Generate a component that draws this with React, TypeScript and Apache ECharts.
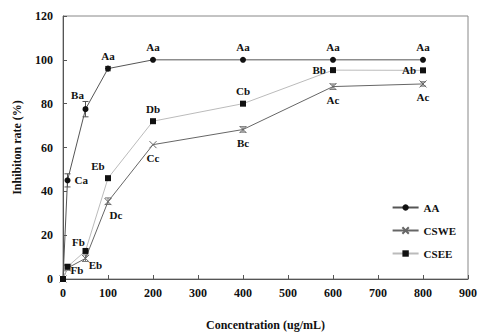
import React, { useEffect, useRef } from "react";
import * as echarts from "echarts";

const concentrations = [0, 10, 50, 100, 200, 400, 600, 800];
const aaValues = [0, 45, 77.5, 96, 100, 100, 100, 100];
const cswеValues = [0, 5, 9.4, 35.3, 61.3, 68.2, 87.8, 89];
const cseeValues = [0, 5.6, 12.8, 46, 72, 80, 95.3, 95.2];

const aaLabels = ["", "Ca", "Ba", "Aa", "Aa", "Aa", "Aa", "Aa"];
const cswеLabels = ["", "Fb", "Eb", "Dc", "Cc", "Bc", "Ac", "Ac"];
const cseeLabels = ["", "", "Fb", "Eb", "Db", "Cb", "Bb", "Ab"];

const aaLabelPos = ["top", "right", "top", "top", "top", "top", "top", "top"];
const cswеLabelPos = ["bottom", "right", "bottom", "bottom", "bottom", "bottom", "bottom", "bottom"];
const cseeLabelPos = ["top", "top", "top", "top", "top", "top", "left", "left"];

// error bars: [x, low, high]
const aaErrors = [
  [10, 42, 48],
  [50, 74, 81],
  [100, 95, 97],
];
const cswеErrors = [
  [10, 4, 6.5],
  [50, 8, 11],
  [100, 34, 37],
  [400, 67, 69.5],
  [600, 86.5, 89],
  [800, 88, 90],
];

const xTicks = { min: 0, max: 900, interval: 100 };
const yTicks = { min: 0, max: 120, interval: 20 };

const FONT = "'Liberation Serif', 'Times New Roman', serif";

const X_PATH = "path://M0,0 L10,10 M10,0 L0,10";

function buildData(values: number[], labels: string[], pos: string[], offsets?: Record<number, number[]>) {
  return concentrations.map((x, i) => ({
    value: [x, values[i]],
    label: {
      show: labels[i] !== "",
      formatter: labels[i],
      position: pos[i],
      distance: 4,
      offset: offsets && offsets[i] ? offsets[i] : [0, 0],
    },
  }));
}

export default function App() {
  const ref = useRef<HTMLDivElement>(null);
  useEffect(() => {
    if (!ref.current) return;
    const chart = echarts.init(ref.current, undefined, { renderer: "svg" });
    const labelStyle = {
      fontFamily: FONT,
      fontWeight: "bold" as const,
      fontSize: 11,
      color: "#111",
    };
    const errorSeries = (data: number[][], color: string) => ({
      type: "custom",
      silent: true,
      z: 1,
      data,
      renderItem: (params: any, api: any) => {
        const x = api.value(0);
        const lo = api.coord([x, api.value(1)]);
        const hi = api.coord([x, api.value(2)]);
        const w = 3;
        const style = { stroke: color, lineWidth: 1 };
        return {
          type: "group",
          children: [
            { type: "line", shape: { x1: lo[0], y1: lo[1], x2: hi[0], y2: hi[1] }, style },
            { type: "line", shape: { x1: lo[0] - w, y1: lo[1], x2: lo[0] + w, y2: lo[1] }, style },
            { type: "line", shape: { x1: hi[0] - w, y1: hi[1], x2: hi[0] + w, y2: hi[1] }, style },
          ],
        };
      },
    });
    chart.setOption({
      animation: false,
      backgroundColor: "#fff",
      grid: {
        left: 63,
        right: 17,
        top: 16,
        bottom: 57,
        show: true,
        borderColor: "#888",
        borderWidth: 1,
      },
      legend: {
        orient: "vertical",
        right: 24,
        top: 197,
        itemWidth: 26,
        itemHeight: 8,
        itemGap: 12,
        textStyle: { fontFamily: FONT, fontWeight: "bold", fontSize: 11, color: "#111" },
        data: ["AA", "CSWE", "CSEE"],
      },
      xAxis: {
        type: "value",
        min: xTicks.min,
        max: xTicks.max,
        interval: xTicks.interval,
        name: "Concentration (ug/mL)",
        nameLocation: "middle",
        nameGap: 40,
        nameTextStyle: { fontFamily: FONT, fontWeight: "bold", fontSize: 12, color: "#111" },
        axisLine: { show: true, lineStyle: { color: "#555" } },
        axisTick: { show: true, inside: true, length: 4, lineStyle: { color: "#555" } },
        axisLabel: { fontFamily: FONT, fontWeight: "bold", fontSize: 12, color: "#111", margin: 8 },
        splitLine: { show: false },
      },
      yAxis: {
        type: "value",
        min: yTicks.min,
        max: yTicks.max,
        interval: yTicks.interval,
        name: "Inhibiton rate (%)",
        nameLocation: "middle",
        nameGap: 40,
        nameRotate: 90,
        nameTextStyle: { fontFamily: FONT, fontWeight: "bold", fontSize: 12, color: "#111" },
        axisLine: { show: true, lineStyle: { color: "#555" } },
        axisTick: { show: true, inside: true, length: 4, lineStyle: { color: "#555" } },
        axisLabel: { fontFamily: FONT, fontWeight: "bold", fontSize: 12, color: "#111", margin: 10 },
        splitLine: { show: false },
      },
      series: [
        {
          name: "AA",
          type: "line",
          z: 3,
          symbol: "circle",
          symbolSize: 6,
          lineStyle: { color: "#555", width: 1 },
          itemStyle: { color: "#111" },
          label: labelStyle,
          data: buildData(aaValues, aaLabels, aaLabelPos, { 2: [-8, -2] }),
        },
        {
          name: "CSWE",
          type: "line",
          z: 3,
          symbol: X_PATH,
          symbolSize: 7,
          lineStyle: { color: "#666", width: 1 },
          itemStyle: { color: "#666", borderColor: "#666", borderWidth: 1 },
          label: labelStyle,
          data: buildData(cswеValues, cswеLabels, cswеLabelPos, {
            1: [-5, 2],
            2: [10, -7],
            3: [8, 0],
          }),
        },
        {
          name: "CSEE",
          type: "line",
          z: 3,
          symbol: "rect",
          symbolSize: 6,
          lineStyle: { color: "#bbb", width: 1 },
          itemStyle: { color: "#111" },
          label: labelStyle,
          data: buildData(cseeValues, cseeLabels, cseeLabelPos, {
            2: [-7, 4],
            3: [-10, 0],
          }),
        },
        errorSeries(aaErrors, "#555"),
        errorSeries(cswеErrors, "#777"),
      ],
    });
    return () => chart.dispose();
  }, []);
  return <div ref={ref} style={{ width: 485, height: 336, position: "absolute", left: 0, top: 0 }} />;
}
